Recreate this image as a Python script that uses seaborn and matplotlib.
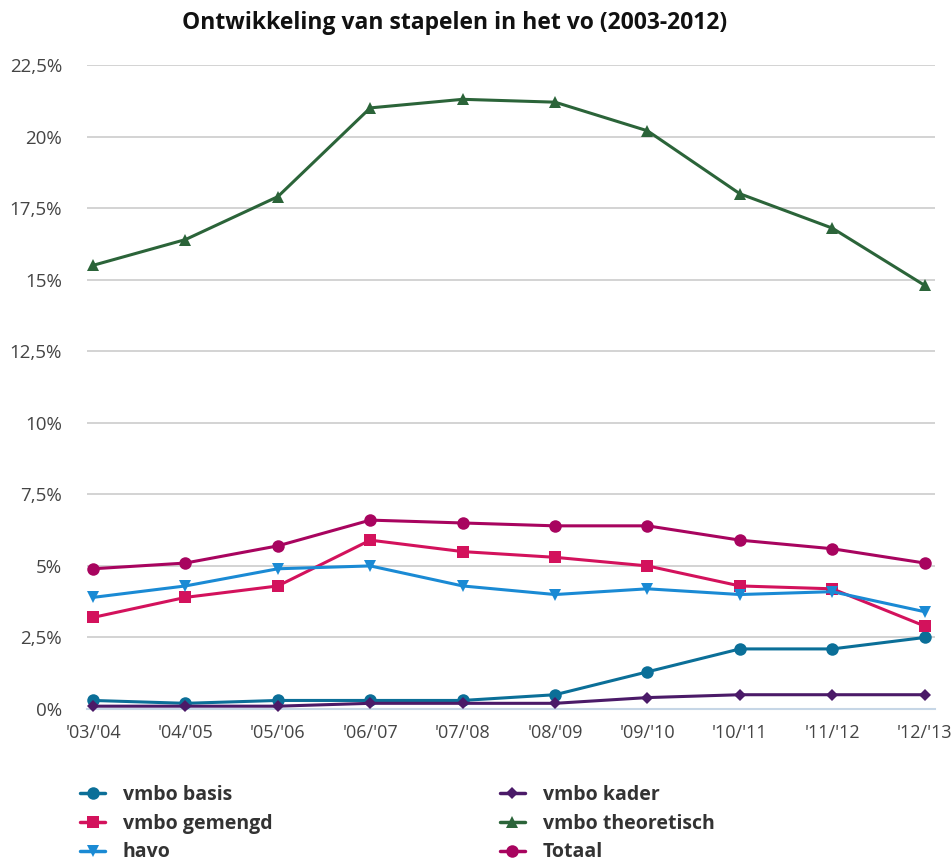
import pandas as pd
import matplotlib.pyplot as plt
import seaborn as sns
from matplotlib.lines import Line2D

# ── Data ──────────────────────────────────────────────────────────────────────
years = ["'03/'04", "'04/'05", "'05/'06", "'06/'07", "'07/'08",
         "'08/'09", "'09/'10", "'10/'11", "'11/'12", "'12/'13"]

vmbo_basis       = [0.3, 0.2, 0.3, 0.3, 0.3, 0.5, 1.3, 2.1, 2.1, 2.5]
vmbo_gemengd     = [3.2, 3.9, 4.3, 5.9, 5.5, 5.3, 5.0, 4.3, 4.2, 2.9]
havo             = [3.9, 4.3, 4.9, 5.0, 4.3, 4.0, 4.2, 4.0, 4.1, 3.4]
vmbo_kader       = [0.1, 0.1, 0.1, 0.2, 0.2, 0.2, 0.4, 0.5, 0.5, 0.5]
vmbo_theoretisch = [15.5, 16.4, 17.9, 21.0, 21.3, 21.2, 20.2, 18.0, 16.8, 14.8]
totaal           = [4.9, 5.1, 5.7, 6.6, 6.5, 6.4, 6.4, 5.9, 5.6, 5.1]

series = {
    "vmbo basis": vmbo_basis,
    "vmbo gemengd": vmbo_gemengd,
    "havo": havo,
    "vmbo kader": vmbo_kader,
    "vmbo theoretisch": vmbo_theoretisch,
    "Totaal": totaal,
}

colors = {
    "vmbo basis": "#0b6f98",
    "vmbo gemengd": "#d3125c",
    "havo": "#1a8ad4",
    "vmbo kader": "#4b1a68",
    "vmbo theoretisch": "#2b6439",
    "Totaal": "#a8045f",
}
markers = {
    "vmbo basis": "o",
    "vmbo gemengd": "s",
    "havo": "v",
    "vmbo kader": "D",
    "vmbo theoretisch": "^",
    "Totaal": "o",
}
msizes = {
    "vmbo basis": 9, "vmbo gemengd": 9, "havo": 9,
    "vmbo kader": 6, "vmbo theoretisch": 8, "Totaal": 9,
}

rows = []
for name, vals in series.items():
    for i, v in enumerate(vals):
        rows.append({"serie": name, "x": i, "pct": v})
df = pd.DataFrame(rows)

sns.set_theme(style="white")
plt.rcParams["font.family"] = ["Open Sans", "DejaVu Sans"]

fig = plt.figure(figsize=(9.52, 8.65), dpi=100)
ax = fig.add_axes([0.0914, 0.1803, 0.8906, 0.7446])

# ── Lines ─────────────────────────────────────────────────────────────────────
for name in series:
    sub = df[df["serie"] == name]
    sns.lineplot(data=sub, x="x", y="pct", color=colors[name],
                 marker=markers[name], markersize=msizes[name],
                 markeredgewidth=0, linewidth=2.2, ax=ax, clip_on=False,
                 zorder=3)

ax.set_xlim(-0.065, 9.11)
ax.set_ylim(0, 22.5)
yticks = [0, 2.5, 5, 7.5, 10, 12.5, 15, 17.5, 20, 22.5]
ax.set_yticks(yticks)
ax.set_yticklabels([(f"{t:g}%").replace(".", ",") for t in yticks],
                   fontsize=13.5, color="#444444")
ax.set_xticks(range(len(years)))
ax.set_xticklabels(years, fontsize=13, color="#444444")
ax.yaxis.grid(True, color="#cccccc", linewidth=1.2)
ax.set_axisbelow(True)
for s in ["top", "right", "left"]:
    ax.spines[s].set_visible(False)
ax.spines["bottom"].set_color("#c6d6e6")
ax.spines["bottom"].set_linewidth(1.5)
ax.tick_params(axis="x", length=8, width=1.5, color="#d3e0ec", pad=3)
ax.tick_params(axis="y", length=0, pad=18)
ax.set_xlabel("")
ax.set_ylabel("")

fig.text(0.478, 0.973, "Ontwikkeling van stapelen in het vo (2003-2012)",
         fontsize=16.5, fontweight="bold", ha="center", va="center",
         color="#111111")

# ── Legend ────────────────────────────────────────────────────────────────────
names = list(series.keys())
handles = [Line2D([0], [0], color=colors[n], marker=markers[n],
                  markersize=msizes[n], markeredgewidth=0, linewidth=2.5)
           for n in names]
for col, x0 in [(0, 0.084), (1, 0.525)]:
    fig.legend(handles[col * 3:col * 3 + 3], names[col * 3:col * 3 + 3],
               loc="upper left", bbox_to_anchor=(x0, 0.0925),
               frameon=False, borderaxespad=0, borderpad=0,
               prop={"weight": "bold", "size": 14}, labelcolor="#333333",
               handlelength=1.3, handletextpad=0.9, labelspacing=0.45)

plt.savefig("out.png", dpi=100)
plt.close()
